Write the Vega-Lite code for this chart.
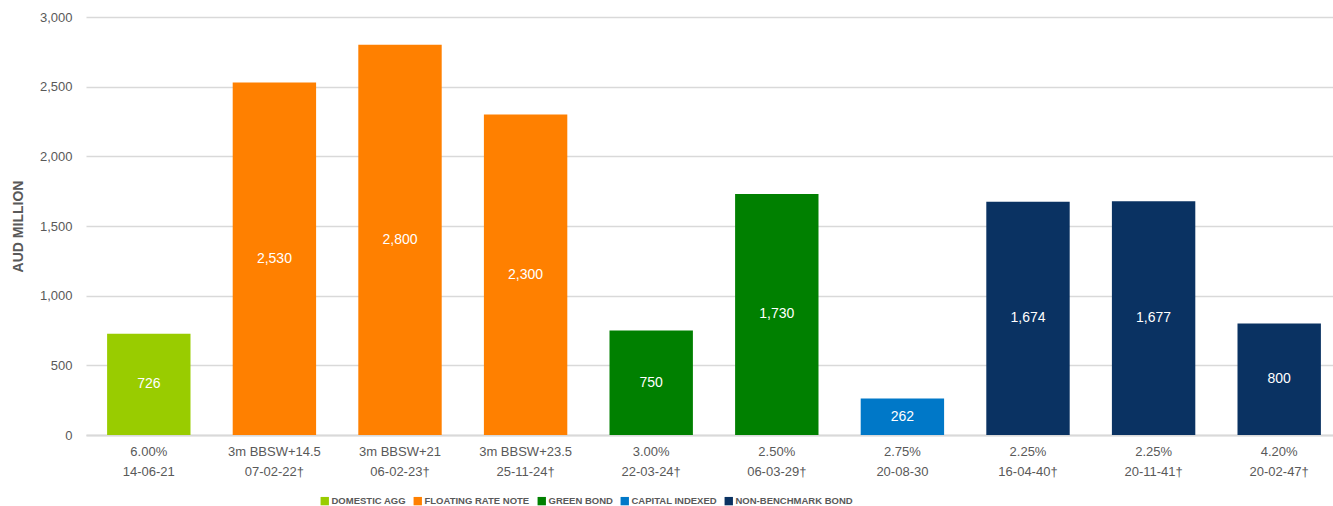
{
  "$schema": "https://vega.github.io/schema/vega-lite/v6.json",
  "width": 1256,
  "height": 418,
  "autosize": "none",
  "padding": {"left": 86, "top": 17, "right": 0, "bottom": 71},
  "background": "white",
  "config": {
    "view": {"stroke": null},
    "font": "Liberation Sans",
    "axis": {"labelFont": "Liberation Sans", "titleFont": "Liberation Sans"},
    "legend": {"labelFont": "Liberation Sans"}
  },
  "data": {
    "values": [
      {"bond": "6.00%|14-06-21", "type": "DOMESTIC AGG", "value": 726},
      {"bond": "3m BBSW+14.5|07-02-22†", "type": "FLOATING RATE NOTE", "value": 2530},
      {"bond": "3m BBSW+21|06-02-23†", "type": "FLOATING RATE NOTE", "value": 2800},
      {"bond": "3m BBSW+23.5|25-11-24†", "type": "FLOATING RATE NOTE", "value": 2300},
      {"bond": "3.00%|22-03-24†", "type": "GREEN BOND", "value": 750},
      {"bond": "2.50%|06-03-29†", "type": "GREEN BOND", "value": 1730},
      {"bond": "2.75%|20-08-30", "type": "CAPITAL INDEXED", "value": 262},
      {"bond": "2.25%|16-04-40†", "type": "NON-BENCHMARK BOND", "value": 1674},
      {"bond": "2.25%|20-11-41†", "type": "NON-BENCHMARK BOND", "value": 1677},
      {"bond": "4.20%|20-02-47†", "type": "NON-BENCHMARK BOND", "value": 800}
    ]
  },
  "encoding": {
    "x": {
      "field": "bond",
      "type": "nominal",
      "sort": null,
      "scale": {"paddingInner": 0.336, "paddingOuter": 0.168},
      "axis": {
        "title": null,
        "labelAngle": 0,
        "labelExpr": "split(datum.label, '|')",
        "labelFontSize": 13,
        "labelColor": "#595959",
        "labelLineHeight": 20,
        "labelPadding": 10,
        "ticks": false,
        "domainColor": "#d9d9d9",
        "domainWidth": 2,
        "labelLimit": 200
      }
    }
  },
  "layer": [
    {
      "mark": {"type": "bar"},
      "encoding": {
        "y": {
          "field": "value",
          "type": "quantitative",
          "scale": {"domain": [0, 3000]},
          "axis": {
            "title": "AUD MILLION",
            "titleFontSize": 14,
            "titleFontWeight": "bold",
            "titleColor": "#595959",
            "titlePadding": 14,
            "values": [0, 500, 1000, 1500, 2000, 2500, 3000],
            "format": ",.0f",
            "labelFontSize": 13,
            "labelColor": "#595959",
            "labelPadding": 14,
            "ticks": false,
            "domain": false,
            "gridColor": "#d9d9d9",
            "gridWidth": 1.5
          }
        },
        "color": {
          "field": "type",
          "type": "nominal",
          "scale": {
            "domain": ["DOMESTIC AGG", "FLOATING RATE NOTE", "GREEN BOND", "CAPITAL INDEXED", "NON-BENCHMARK BOND"],
            "range": ["#99cc00", "#ff8000", "#008000", "#0078c8", "#0a3262"]
          },
          "legend": {
            "title": null,
            "orient": "none",
            "legendX": 234,
            "legendY": 479,
            "direction": "horizontal",
            "symbolType": "square",
            "symbolSize": 70,
            "symbolStrokeWidth": 0,
            "labelFontSize": 9.5,
            "labelFontWeight": "bold",
            "labelColor": "#595959",
            "labelOffset": 2,
            "labelLimit": 300,
            "columnPadding": 7,
            "symbolOpacity": 1
          }
        }
      }
    },
    {
      "transform": [{"calculate": "datum.value / 2", "as": "mid"}],
      "mark": {"type": "text", "color": "white", "fontSize": 14, "baseline": "middle"},
      "encoding": {
        "y": {"field": "mid", "type": "quantitative"},
        "text": {"field": "value", "type": "quantitative", "format": ","}
      }
    }
  ]
}
